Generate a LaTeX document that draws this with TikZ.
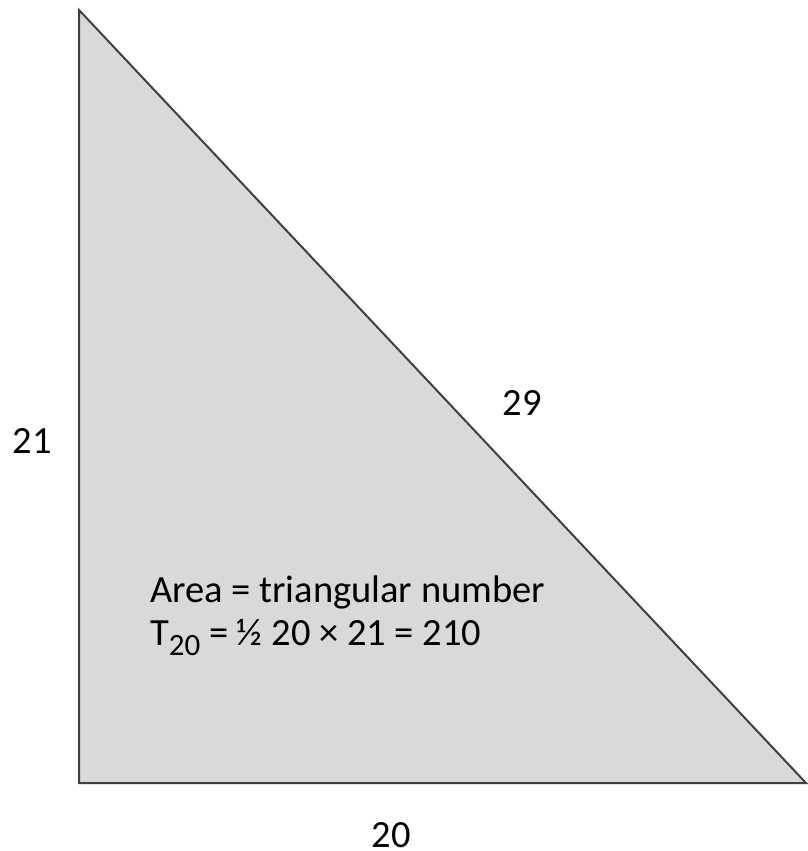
\documentclass[tikz,border=0pt]{standalone}
\usepackage{fontspec}
\setmainfont{Carlito}
\newcommand{\mysub}[1]{\raisebox{-10pt}{\fontsize{31}{34}\selectfont #1}}
\begin{document}
\begin{tikzpicture}[x=1pt,y=-1pt,
  lbl/.style={inner sep=0pt, font=\fontsize{38.5}{42}\selectfont, text=black}]
\useasboundingbox (0,0) rectangle (808,851);
\coordinate (A) at (79,10);
\coordinate (B) at (79,783);
\coordinate (C) at (806,783);
\filldraw[fill=black!15, draw=black!75, line width=2pt, line join=miter] (A) -- (B) -- (C) -- cycle;
\node[lbl, anchor=base] (l21) at (32.5,453) {21};
\node[lbl, anchor=base] (l29) at (522.5,415) {29};
\node[lbl, anchor=base, text depth=0pt] (l20) at (391.5,847) {20};
\node[lbl, anchor=base west] (area) at (150,602) {Area = triangular number};
\node[lbl, anchor=base west] (tf) at (150,645) {T\mysub{20} = ½ 20 × 21 = 210};
\end{tikzpicture}
\end{document}
